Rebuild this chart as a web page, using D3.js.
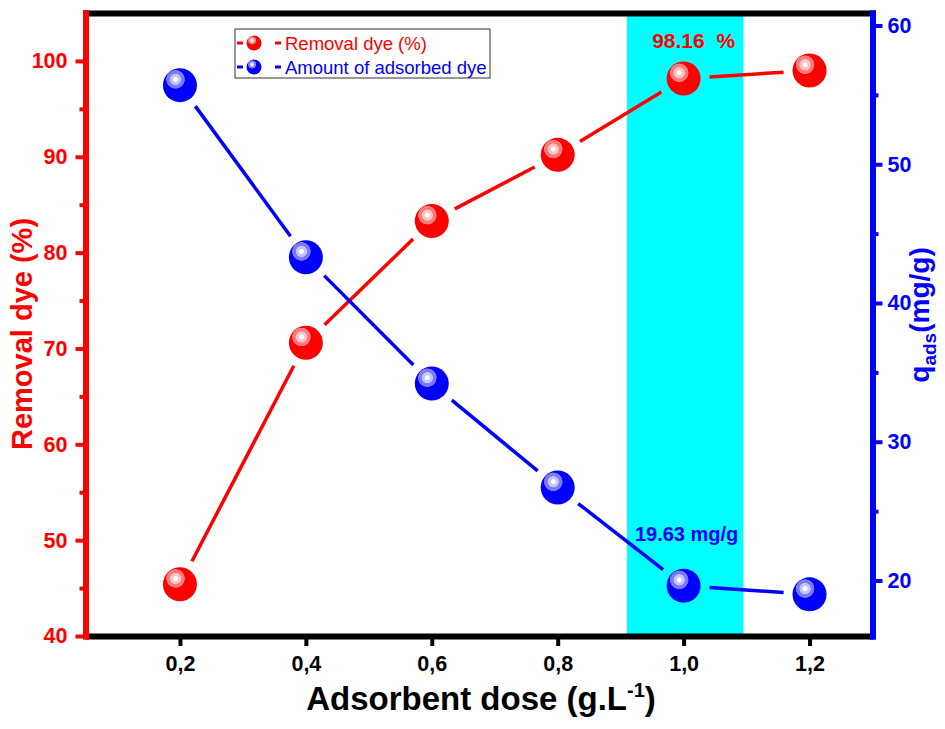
<!DOCTYPE html>
<html>
<head>
<meta charset="utf-8">
<script src="https://cdn.jsdelivr.net/npm/d3@7"></script>
<style>
  body { margin: 0; background: #fff; }
  text { font-family: "Liberation Sans", Arial, sans-serif; }
</style>
</head>
<body>
<script>
// Data
var doses = [0.2, 0.4, 0.6, 0.8, 1.0, 1.2];
var removalDye = [45.4, 70.6, 83.3, 90.2, 98.16, 99.0];
var adsorbedDye = [55.7, 43.3, 34.2, 26.7, 19.63, 19.0];
var xTickValues = [0.2, 0.4, 0.6, 0.8, 1.0, 1.2];
var leftTickValues = [40, 50, 60, 70, 80, 90, 100];
var leftMinorTicks = [45, 55, 65, 75, 85, 95];
var rightTickValues = [20, 30, 40, 50, 60];
var rightMinorTicks = [25, 35, 45, 55];
var seriesNames = ["Removal dye (%)", "Amount of adsorbed dye"];
var highlightBand = [0.91, 1.095];

var svgWidth = 945;
var svgHeight = 729;

var margin = { top: 13, right: 72.5, bottom: 93, left: 85.5 };
var width = svgWidth - margin.left - margin.right;
var height = svgHeight - margin.top - margin.bottom;

var svg = d3.select("body").append("svg")
  .attr("width", svgWidth).attr("height", svgHeight);

var defs = svg.append("defs");
function sphereGradient(id, base, mid, light) {
  var g = defs.append("radialGradient").attr("id", id)
    .attr("cx", 0.37).attr("cy", 0.33).attr("r", 0.28)
    .attr("fx", 0.37).attr("fy", 0.33);
  [[0, "#fff"], [0.22, "#fff"], [0.3, light], [0.55, light], [0.62, mid], [0.94, mid], [1, base]]
    .forEach(function(s) { g.append("stop").attr("offset", s[0]).attr("stop-color", s[1]); });
}
sphereGradient("ballRed", "#ff0000", "#ff7a7a", "#ffc4c4");
sphereGradient("ballBlue", "#0000ff", "#7a7aff", "#c4c4ff");

var chartGroup = svg.append("g")
  .attr("transform", `translate(${margin.left}, ${margin.top})`);

// scales
var xScale = d3.scaleLinear().domain([0.05, 1.3]).range([0, width]);
var yLeft = d3.scaleLinear().domain([40, 105]).range([height, 0]);
var yRight = d3.scaleLinear().domain([16, 60.9]).range([height, 0]);

// cyan band
chartGroup.append("rect")
  .attr("x", xScale(highlightBand[0]))
  .attr("y", 0)
  .attr("width", xScale(highlightBand[1]) - xScale(highlightBand[0]))
  .attr("height", height)
  .attr("fill", "#00ffff");

// line segments with gaps around the markers
function drawSeries(values, yScale, color, grad) {
  var pts = doses.map(function(d, i) { return [xScale(d), yScale(values[i])]; });
  var gap = 26;
  for (var i = 0; i < pts.length - 1; i++) {
    var a = pts[i], b = pts[i + 1];
    var dx = b[0] - a[0], dy = b[1] - a[1];
    var len = Math.sqrt(dx * dx + dy * dy);
    var ux = dx / len, uy = dy / len;
    chartGroup.append("line")
      .attr("x1", a[0] + ux * gap).attr("y1", a[1] + uy * gap)
      .attr("x2", b[0] - ux * gap).attr("y2", b[1] - uy * gap)
      .attr("stroke", color).attr("stroke-width", 3.5);
  }
  chartGroup.selectAll(null)
    .data(values)
    .enter()
    .append("circle")
    .attr("cx", function(d, i) { return xScale(doses[i]); })
    .attr("cy", function(d) { return yScale(d); })
    .attr("r", 17)
    .attr("fill", "url(#" + grad + ")");
}
drawSeries(removalDye, yLeft, "#ff0000", "ballRed");
drawSeries(adsorbedDye, yRight, "#0000ff", "ballBlue");

// annotations
chartGroup.append("text")
  .attr("x", xScale(1.0) + 10).attr("y", 48 - margin.top)
  .attr("text-anchor", "middle")
  .attr("fill", "#ff0000").attr("font-size", 21).attr("font-weight", "bold")
  .text(d3.format(".2f")(removalDye[4]) + "\u00a0\u00a0%");
chartGroup.append("text")
  .attr("x", xScale(1.0) + 3).attr("y", 541 - margin.top)
  .attr("text-anchor", "middle")
  .attr("fill", "#0000ff").attr("font-size", 20).attr("font-weight", "bold")
  .text(d3.format(".2f")(adsorbedDye[4]) + " mg/g");

// axes
function styleAxis(g, color, labelSize) {
  g.select(".domain").attr("stroke", color).attr("stroke-width", 6).attr("stroke-linecap", "square");
  g.selectAll(".tick line").attr("stroke", color).attr("stroke-width", 4);
  g.selectAll(".tick text").attr("fill", color).attr("font-size", labelSize)
    .attr("font-weight", "bold").attr("font-family", "Liberation Sans, Arial, sans-serif");
}

var bottomAxis = d3.axisBottom(xScale).tickValues(xTickValues).tickSize(10).tickSizeOuter(0).tickPadding(10)
  .tickFormat(function(d) { return d3.format(".1f")(d).replace(".", ","); });
var topAxis = d3.axisTop(xScale).tickValues([]).tickSizeOuter(0);

chartGroup.append("g").attr("transform", `translate(0, ${height})`).call(bottomAxis)
  .call(function(g) { styleAxis(g, "#000", 21.5); g.select(".domain").attr("stroke-linecap", "butt"); });
chartGroup.append("g").call(topAxis)
  .call(function(g) { styleAxis(g, "#000", 21.5); });

var leftMinor = d3.axisLeft(yLeft).tickValues(leftMinorTicks).tickSize(6).tickFormat("").tickSizeOuter(0);
var rightMinor = d3.axisRight(yRight).tickValues(rightMinorTicks).tickSize(6).tickFormat("").tickSizeOuter(0);
chartGroup.append("g").call(leftMinor).call(function(g) { styleAxis(g, "#ff0000", 21.5); });
chartGroup.append("g").attr("transform", `translate(${width}, 0)`).call(rightMinor)
  .call(function(g) { styleAxis(g, "#0000ff", 21.5); });

var leftAxis = d3.axisLeft(yLeft).tickValues(leftTickValues).tickSize(10).tickSizeOuter(0).tickPadding(8);
var rightAxis = d3.axisRight(yRight).tickValues(rightTickValues).tickSize(10).tickSizeOuter(0).tickPadding(5);
chartGroup.append("g").call(leftAxis).call(function(g) { styleAxis(g, "#ff0000", 21.5); });
chartGroup.append("g").attr("transform", `translate(${width}, 0)`).call(rightAxis)
  .call(function(g) { styleAxis(g, "#0000ff", 21.5); });

// axis titles
svg.append("text")
  .attr("transform", "translate(32, 334) rotate(-90)")
  .attr("text-anchor", "middle")
  .attr("fill", "#ff0000").attr("font-size", 29).attr("font-weight", "bold")
  .text("Removal dye (%)");

var rTitle = svg.append("text")
  .attr("transform", "translate(929, 315) rotate(-90)")
  .attr("text-anchor", "middle")
  .attr("fill", "#0000ff").attr("font-size", 28).attr("font-weight", "bold");
rTitle.append("tspan").text("q");
rTitle.append("tspan").attr("font-size", 19).attr("dy", 7).text("ads");
rTitle.append("tspan").attr("dy", -7).text("(mg/g)");

var xTitle = svg.append("text")
  .attr("x", 481).attr("y", 710)
  .attr("text-anchor", "middle")
  .attr("fill", "#000").attr("font-size", 33).attr("font-weight", "bold");
xTitle.append("tspan").text("Adsorbent dose (g.L");
xTitle.append("tspan").attr("font-size", 20).attr("dy", -13).text("-1");
xTitle.append("tspan").attr("dy", 13).text(")");

// legend
var legend = svg.append("g").attr("transform", "translate(235, 29)");
legend.append("rect").attr("width", 255).attr("height", 49)
  .attr("fill", "#fff").attr("stroke", "#333").attr("stroke-width", 1);
var legendColors = ["#ff0000", "#0000ff"];
var legendGrads = ["ballRed", "ballBlue"];
seriesNames.forEach(function(name, i) {
  var row = legend.append("g").attr("transform", `translate(0, ${14 + i * 24})`);
  row.append("line").attr("x1", 2).attr("x2", 8).attr("stroke", legendColors[i]).attr("stroke-width", 3);
  row.append("line").attr("x1", 40).attr("x2", 46).attr("stroke", legendColors[i]).attr("stroke-width", 3);
  row.append("circle").attr("cx", 19).attr("r", 7.5).attr("fill", "url(#" + legendGrads[i] + ")");
  row.append("text").attr("x", 50).attr("y", 6.5)
    .attr("fill", legendColors[i]).attr("font-size", 18.5)
    .text(name);
});
</script>
</body>
</html>
